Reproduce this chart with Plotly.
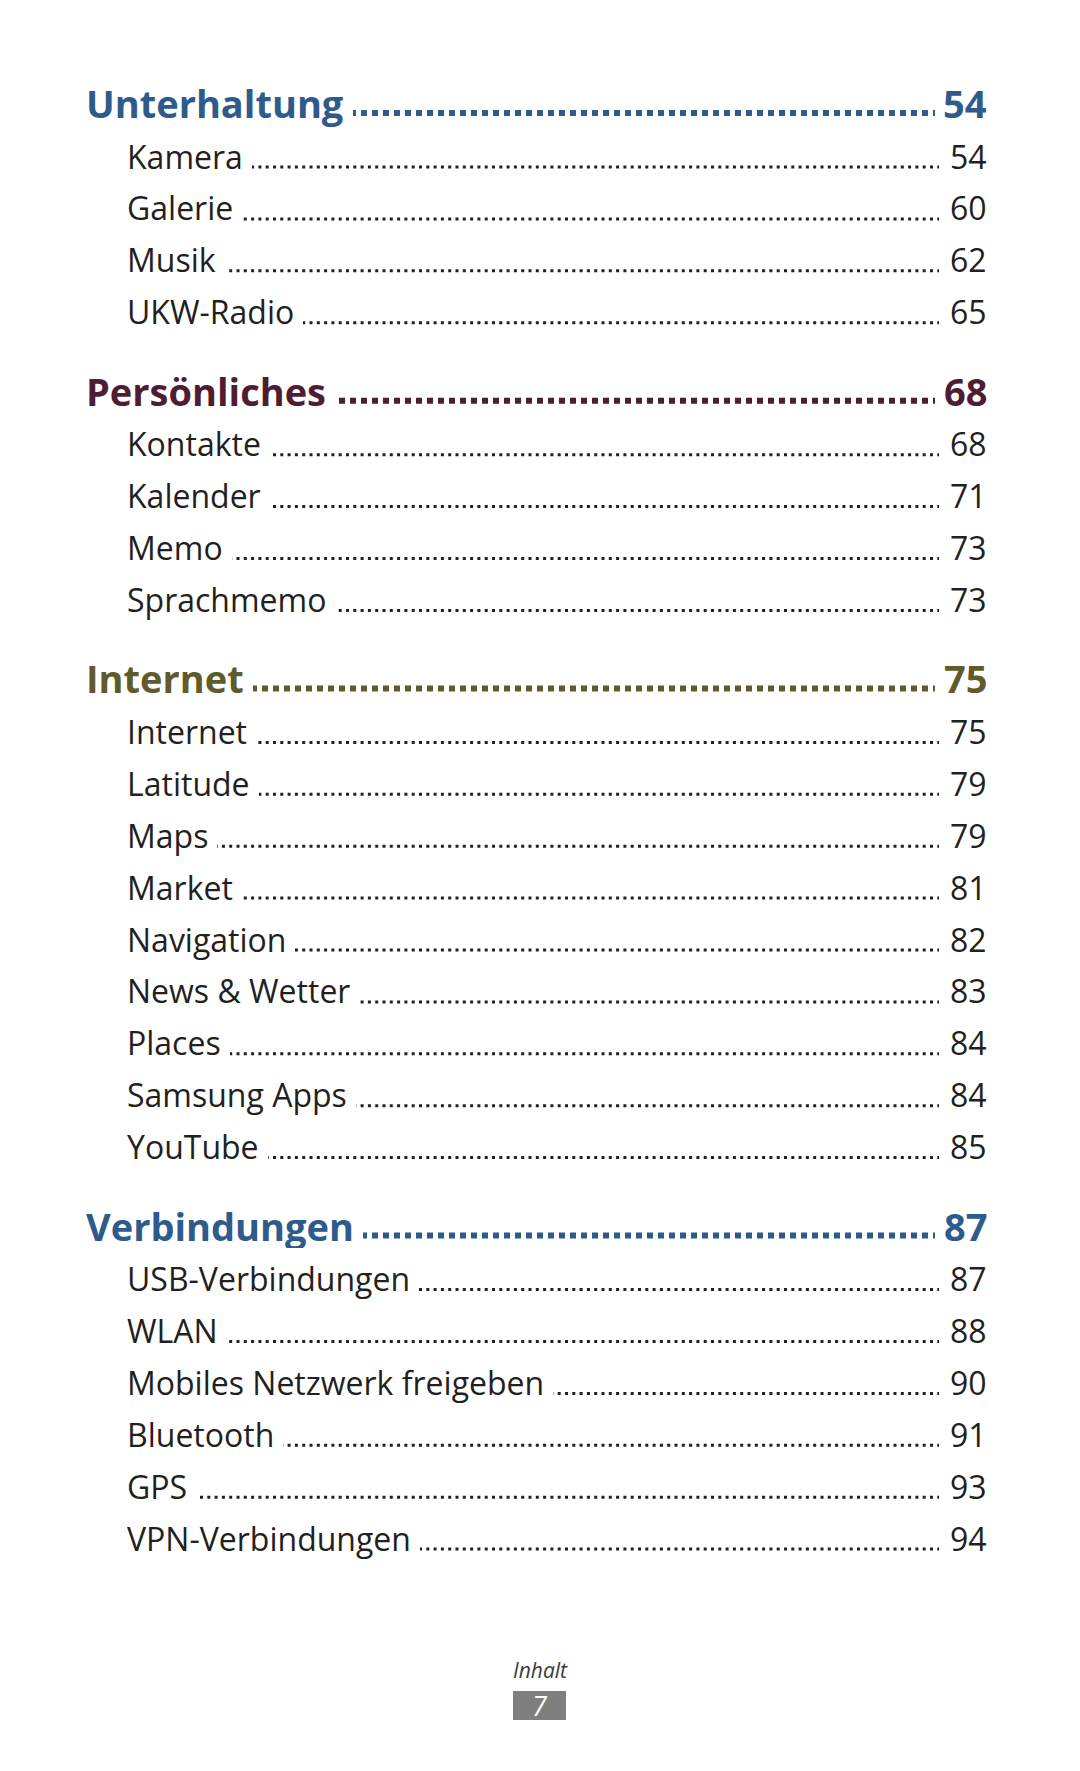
import plotly.graph_objects as go

# ---------------- data ----------------
section_titles = ["Unterhaltung", "Persönliches", "Internet", "Verbindungen"]
section_pages = ["54", "68", "75", "87"]
section_colors = ["#2E5B8C", "#4F1D31", "#5F5B2B", "#2E5B8C"]

unterhaltung_items = ["Kamera", "Galerie", "Musik", "UKW-Radio"]
unterhaltung_pages = ["54", "60", "62", "65"]
persoenliches_items = ["Kontakte", "Kalender", "Memo", "Sprachmemo"]
persoenliches_pages = ["68", "71", "73", "73"]
internet_items = ["Internet", "Latitude", "Maps", "Market", "Navigation",
                  "News & Wetter", "Places", "Samsung Apps", "YouTube"]
internet_pages = ["75", "79", "79", "81", "82", "83", "84", "84", "85"]
verbindungen_items = ["USB-Verbindungen", "WLAN", "Mobiles Netzwerk freigeben",
                      "Bluetooth", "GPS", "VPN-Verbindungen"]
verbindungen_pages = ["87", "88", "90", "91", "93", "94"]

footer_label = "Inhalt"
page_number = "7"

section_items = [unterhaltung_items, persoenliches_items, internet_items, verbindungen_items]
section_item_pages = [unterhaltung_pages, persoenliches_pages, internet_pages, verbindungen_pages]

# ---------------- layout constants ----------------
W, H = 1080, 1771
BODY_MARGIN = 8   # the page body offsets the figure by 8px
TOP = 103
HEAD_TO_ITEM = 53
ITEM_STEP = 51.9
ITEM_TO_HEAD = 79

HEAD_X = 86
ITEM_X = 127
NUM_RIGHT = 989
ITEM_DOT_END = 939
HEAD_DOT_END = 935

FONT = "Open Sans"
ITEM_SIZE = 32
HEAD_SIZE = 38
ITEM_COLOR = "#231F20"
PAD = 9

fig = go.Figure()
annotations = []

y = TOP
for s, title in enumerate(section_titles):
    color = section_colors[s]
    fig.add_trace(go.Scatter(
        x=[HEAD_X, HEAD_DOT_END], y=[y + 10, y + 10], mode="lines",
        line=dict(color=color, width=6, dash="6px,5px"),
        hoverinfo="skip", showlegend=False))
    annotations.append(dict(
        x=HEAD_X - PAD, y=y, xref="x", yref="y", text=title, showarrow=False,
        xanchor="left", yanchor="middle", bgcolor="white", borderpad=PAD, borderwidth=0,
        font=dict(family=FONT, size=HEAD_SIZE, color=color, weight="bold")))
    annotations.append(dict(
        x=NUM_RIGHT, y=y, xref="x", yref="y", text=section_pages[s], showarrow=False,
        xanchor="right", yanchor="middle",
        font=dict(family=FONT, size=HEAD_SIZE, color=color, weight="bold")))
    y += HEAD_TO_ITEM
    items = section_items[s]
    pages = section_item_pages[s]
    for i, item in enumerate(items):
        fig.add_trace(go.Scatter(
            x=[ITEM_X, ITEM_DOT_END], y=[y + 11, y + 11], mode="lines",
            line=dict(color=ITEM_COLOR, width=3, dash="3px,4.3px"),
            hoverinfo="skip", showlegend=False))
        annotations.append(dict(
            x=ITEM_X - PAD, y=y, xref="x", yref="y", text=item, showarrow=False,
            xanchor="left", yanchor="middle", bgcolor="white", borderpad=PAD, borderwidth=0,
            font=dict(family=FONT, size=ITEM_SIZE, color=ITEM_COLOR)))
        annotations.append(dict(
            x=NUM_RIGHT, y=y, xref="x", yref="y", text=pages[i], showarrow=False,
            xanchor="right", yanchor="middle",
            font=dict(family=FONT, size=ITEM_SIZE, color=ITEM_COLOR)))
        if i < len(items) - 1:
            y += ITEM_STEP
    y += ITEM_TO_HEAD

# footer
annotations.append(dict(
    x=540, y=1670, xref="x", yref="y", text=footer_label, showarrow=False,
    xanchor="center", yanchor="middle",
    font=dict(family=FONT, size=21, color="#3A3A3A", style="italic")))
annotations.append(dict(
    x=540, y=1705, xref="x", yref="y", text=page_number, showarrow=False,
    xanchor="center", yanchor="middle",
    font=dict(family=FONT, size=27, color="white", style="italic")))

shapes = [dict(type="rect", xref="x", yref="y", x0=513, x1=566, y0=1691, y1=1720,
               fillcolor="#7F7F7F", line=dict(width=0), layer="below")]

fig.update_layout(
    width=W, height=H,
    margin=dict(l=0, r=0, t=0, b=0),
    paper_bgcolor="white", plot_bgcolor="white",
    xaxis=dict(range=[BODY_MARGIN, W + BODY_MARGIN], visible=False, fixedrange=True),
    yaxis=dict(range=[H + BODY_MARGIN, BODY_MARGIN], visible=False, fixedrange=True),
    annotations=annotations, shapes=shapes,
    showlegend=False,
)

fig.write_html("out.html")
